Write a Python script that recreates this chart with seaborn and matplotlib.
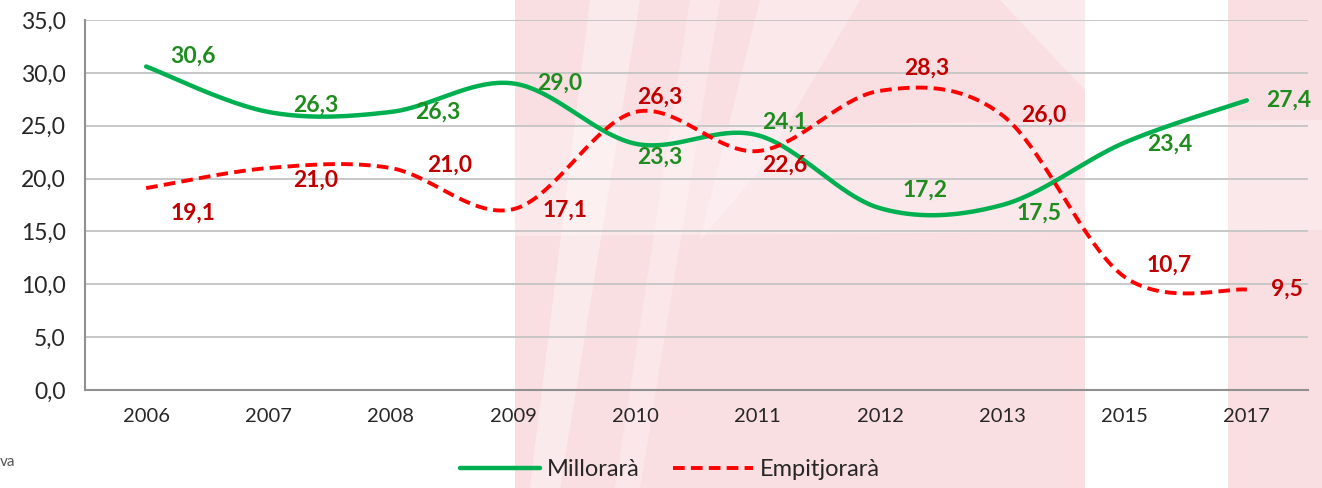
import numpy as np
import pandas as pd
import matplotlib
matplotlib.use("Agg")
import matplotlib.pyplot as plt
from matplotlib.patches import Polygon
import seaborn as sns

# data
years = ["2006", "2007", "2008", "2009", "2010", "2011", "2012", "2013", "2015", "2017"]
millorara = [30.6, 26.3, 26.3, 29.0, 23.3, 24.1, 17.2, 17.5, 23.4, 27.4]
empitjorara = [19.1, 21.0, 21.0, 17.1, 26.3, 22.6, 28.3, 26.0, 10.7, 9.5]
yticks = [0, 5, 10, 15, 20, 25, 30, 35]

# label offsets in pixels (dx, dy)
green_off = [(47, 10), (47, 7), (47, 0), (47, 0), (24, -14), (27, 13), (45, 18), (37, -8), (45, -2), (42, 0)]
red_off = [(47, -25), (47, -12), (59, 3), (52, -1), (24, 15), (27, -14), (47, 23), (42, 0), (45, 12), (40, 0)]

GREEN = "#00B050"
GREEN_TXT = "#1E8C1E"
RED = "#FF0000"
RED_TXT = "#C00000"
PINK = "#FADFE2"


def smooth(xs, ys, n=40):
    # excel-like bezier smoothing through the points
    p = np.column_stack([xs, ys]).astype(float)
    pts = np.vstack([p[0], p, p[-1]])
    out = []
    for i in range(1, len(pts) - 2):
        p0, p1, p2, p3 = pts[i - 1], pts[i], pts[i + 1], pts[i + 2]
        c1 = p1 + (p2 - p0) / 6
        c2 = p2 - (p3 - p1) / 6
        t = np.linspace(0, 1, n)[:, None]
        seg = (1 - t) ** 3 * p1 + 3 * (1 - t) ** 2 * t * c1 + 3 * (1 - t) * t ** 2 * c2 + t ** 3 * p2
        out.append(seg if i == 1 else seg[1:])
    out = np.vstack(out)
    return out[:, 0], out[:, 1]


sns.set_style("white")
plt.rcParams["font.family"] = ["Lato", "DejaVu Sans"]

fig = plt.figure(figsize=(13.22, 4.88), dpi=100)

# faint pink watermark behind the chart
W, H = 1322, 488
def px_poly(points, color, alpha=1.0):
    pts = [(x / W, 1 - y / H) for x, y in points]
    fig.patches.append(Polygon(pts, closed=True, transform=fig.transFigure,
                               facecolor=color, edgecolor="none", alpha=alpha, zorder=-2))

px_poly([(515, 0), (1085, 0), (1085, 488), (515, 488)], PINK)
px_poly([(1228, 0), (1322, 0), (1322, 488), (1228, 488)], PINK)
# lighter diagonal stripes
px_poly([(590, 0), (640, 0), (560, 488), (530, 488)], "white", alpha=0.35)
px_poly([(690, 0), (720, 0), (640, 488), (615, 488)], "white", alpha=0.25)
px_poly([(760, 0), (860, 0), (760, 170), (700, 240)], "white", alpha=0.3)
px_poly([(1000, 0), (1085, 0), (1085, 90)], "white", alpha=0.35)
# soft light band across the middle
px_poly([(0, 130), (1322, 120), (1322, 230), (0, 240)], "white", alpha=0.3)

ax = fig.add_axes([85 / W, 1 - 390 / H, (1308 - 85) / W, 370 / H])
ax.set_facecolor("none")

x = np.arange(len(years))
gx, gy = smooth(x, millorara)
rx, ry = smooth(x, empitjorara)
df_g = pd.DataFrame({"x": gx, "y": gy})
df_r = pd.DataFrame({"x": rx, "y": ry})

sns.lineplot(data=df_g, x="x", y="y", ax=ax, color=GREEN, lw=3.2, sort=False,
             label="Millorarà", zorder=3)
sns.lineplot(data=df_r, x="x", y="y", ax=ax, color=RED, lw=2.8, sort=False,
             label="Empitjorarà", zorder=3)
ax.lines[-1].set_dashes([3, 1.6])

for i in range(len(years)):
    ax.annotate(f"{millorara[i]:.1f}".replace(".", ","), (x[i], millorara[i]),
                xytext=green_off[i], textcoords="offset pixels", ha="center", va="center",
                color=GREEN_TXT, fontsize=16.5, fontweight="bold", zorder=4)
    ax.annotate(f"{empitjorara[i]:.1f}".replace(".", ","), (x[i], empitjorara[i]),
                xytext=red_off[i], textcoords="offset pixels", ha="center", va="center",
                color=RED_TXT, fontsize=16.5, fontweight="bold", zorder=4)

ax.set_xlim(-0.5, len(years) - 0.5)
ax.set_ylim(0, 35)
ax.set_yticks(yticks)
ax.set_yticklabels([f"{v:.1f}".replace(".", ",") for v in yticks], fontsize=16.5)
ax.set_xticks(np.arange(-0.5, len(years)), labels=[])
ax.set_xticks(x, minor=True)
ax.set_xticklabels(years, minor=True, fontsize=14.5)
ax.tick_params(axis="x", which="major", length=9, width=1.3, color="#909090", direction="out")
ax.tick_params(axis="x", which="minor", length=0, pad=13)
ax.tick_params(axis="y", length=8, width=1.3, color="#909090", direction="out", pad=6)
ax.set_xlabel("")
ax.set_ylabel("")
ax.grid(axis="y", color="#C4C4C4", lw=1.3)
ax.grid(axis="x", visible=False)
for s in ["top", "right"]:
    ax.spines[s].set_visible(False)
for s in ["left", "bottom"]:
    ax.spines[s].set_color("#909090")
    ax.spines[s].set_linewidth(1.5)

handles, labels = ax.get_legend_handles_labels()
ax.get_legend().remove()
fig.legend(handles, labels, loc="center", bbox_to_anchor=(670 / W, 1 - 470 / H), ncol=2,
           frameon=False, fontsize=17, handlelength=3.4, columnspacing=1.4, handletextpad=0.3)

fig.text(0, 1 - 462 / H, "va", fontsize=11, color="#555555", ha="left", va="center")

fig.savefig("out.png", dpi=100)
